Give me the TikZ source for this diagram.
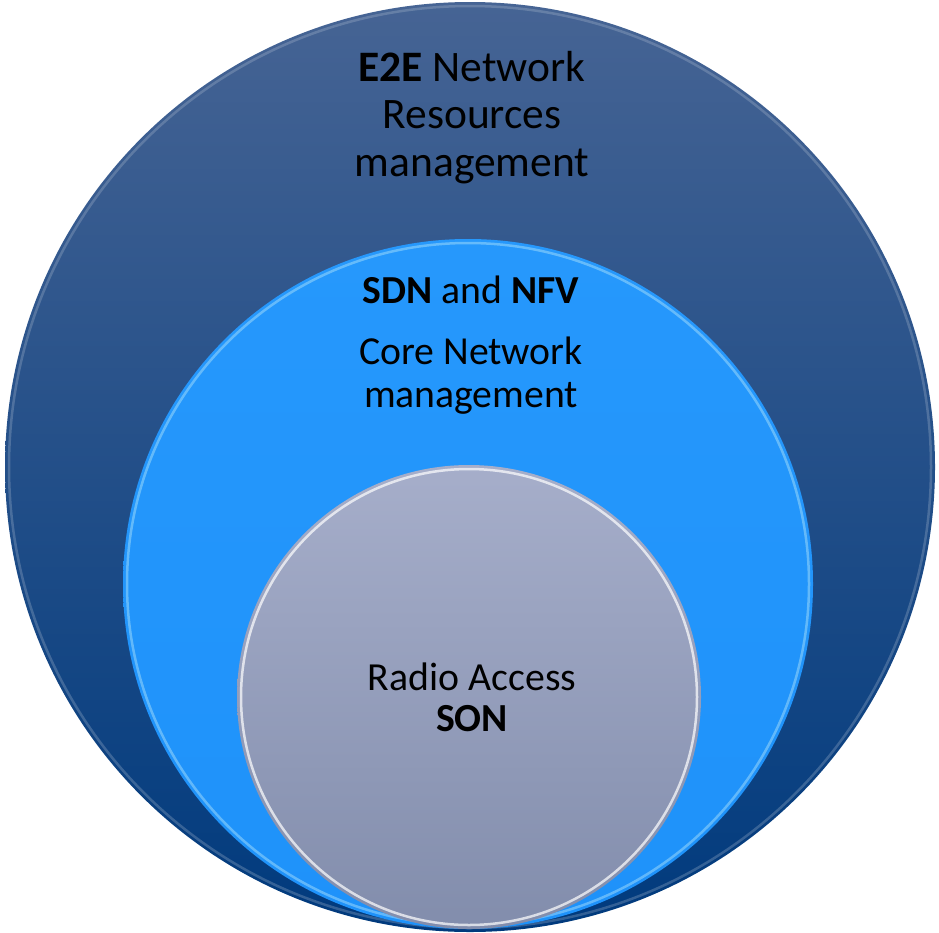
\documentclass[tikz,border=0pt]{standalone}
\usepackage{fontspec}
\setmainfont{Carlito}
\definecolor{outtop}{RGB}{70,100,148}
\definecolor{outmid}{RGB}{14,68,136}
\definecolor{outbot}{RGB}{0,58,125}
\definecolor{midtop}{RGB}{38,152,252}
\definecolor{midbot}{RGB}{30,146,250}
\definecolor{intop}{RGB}{166,174,202}
\definecolor{inbot}{RGB}{130,141,172}
\begin{document}
\begin{tikzpicture}[x=1pt,y=-1pt,
  lbl/.style={inner sep=0pt, anchor=base, text=black},
  rim/.style={line width=2.5pt, opacity=0.45}]
\useasboundingbox (0,0) rectangle (939,932);
% outer circle
\shade[top color=outtop, middle color=outmid, bottom color=outbot] (470,467) circle[radius=465pt];
\draw[rim, color=white!70!outtop, opacity=0.25] (470,467) circle[radius=461pt];
% middle circle
\shade[top color=midtop, bottom color=midbot] (468,584) circle[radius=345pt];
\draw[rim, color=cyan!30!white] (468,584) circle[radius=341pt];
% inner circle
\shade[top color=intop, bottom color=inbot] (469,697) circle[radius=232pt];
\draw[rim, color=white, opacity=0.7] (469,697) circle[radius=228pt];
% texts
\begin{scope}[font=\fontsize{43.5}{52}\selectfont]
\node[lbl] (t1) at (472,81) {\textbf{E2E} Network};
\node[lbl] (t2) at (472,128) {Resources};
\node[lbl] (t3) at (472,176) {management};
\end{scope}
\begin{scope}[font=\fontsize{39.7}{47}\selectfont]
\node[lbl] (m1) at (471,303) {\textbf{SDN} and \textbf{NFV}};
\node[lbl] (m2) at (471,364) {Core Network};
\node[lbl] (m3) at (471,407) {management};
\end{scope}
\begin{scope}[font=\fontsize{39.8}{47}\selectfont]
\node[lbl] (i1) at (472,690) {Radio Access};
\node[lbl] (i2) at (472,731) {\textbf{SON}};
\end{scope}
\end{tikzpicture}
\end{document}
